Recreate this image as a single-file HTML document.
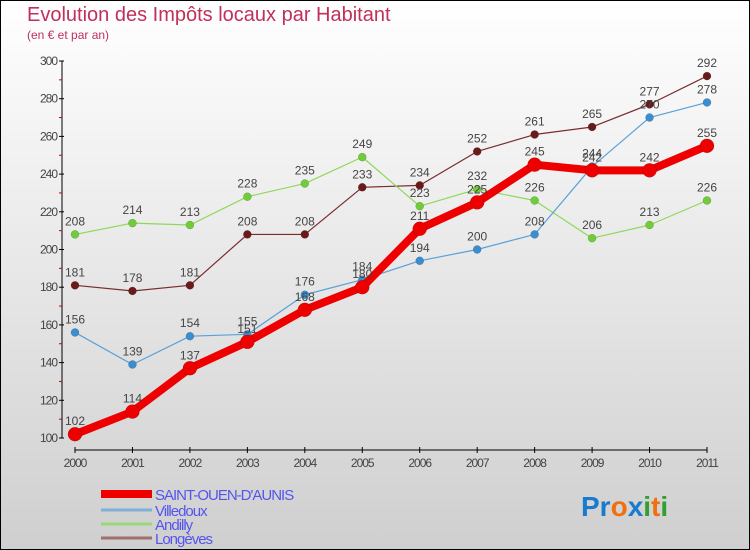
<!DOCTYPE html>
<html><head><meta charset="utf-8"><style>
body{margin:0;}
#wrap{position:relative;width:748px;height:548px;border:1px solid #000;background:linear-gradient(#fff,#cfcfcf);font-family:"Liberation Sans",sans-serif;overflow:hidden}
.t{position:absolute;color:#c0305a}
</style></head><body>
<div id="wrap">
<div class="t" style="left:26px;top:3px;font-size:20px;font-weight:300">Evolution des Impôts locaux par Habitant</div>
<div class="t" style="left:26px;top:27px;font-size:12px">(en € et par an)</div>
<svg id="chart" width="748" height="548" style="position:absolute;left:0;top:0"></svg>
</div>
<script>
const years=["2000","2001","2002","2003","2004","2005","2006","2007","2008","2009","2010","2011"];
const yTicks=[100,120,140,160,180,200,220,240,260,280,300];
const saintOuen=[102,114,137,151,168,180,211,225,245,242,242,255];
const villedoux=[156,139,154,155,176,184,194,200,208,244,270,278];
const andilly=[208,214,213,228,235,249,223,232,226,206,213,226];
const longeves=[181,178,181,208,208,233,234,252,261,265,277,292];
const seriesNames=["SAINT-OUEN-D'AUNIS","Villedoux","Andilly","Longèves"];

const ns="http://www.w3.org/2000/svg";
const svg=document.getElementById('chart');
const x=i=>74+i*(632/11);
const y=v=>437-(v-100)*(377/200);
function el(t,a,p){const e=document.createElementNS(ns,t);for(const k in a)e.setAttribute(k,a[k]);(p||svg).appendChild(e);return e;}

// y axis
let ax=el('line',{x1:61,y1:y(300),x2:61,y2:y(100),stroke:'#000','stroke-width':1});


for(let v=110;v<300;v+=20){el('line',{x1:58,y1:y(v),x2:61,y2:y(v),stroke:'#c00'});}
yTicks.forEach(v=>{
 el('line',{x1:58,y1:y(v),x2:63,y2:y(v),stroke:'#000'});
 const t=el('text',{x:56,y:y(v)+4,'text-anchor':'end','font-size':12,fill:'#444','letter-spacing':'-1'});
 t.textContent=v;
 
 
});
// x axis
let xa=el('line',{x1:x(0),y1:449,x2:x(11),y2:449,stroke:'#000'});


years.forEach((yr,i)=>{
 el('line',{x1:x(i),y1:446,x2:x(i),y2:452,stroke:'#000'});
 const t=el('text',{x:x(i),y:466,'text-anchor':'middle','font-size':12,fill:'#444','letter-spacing':'-1'});
 t.textContent=yr;
 
 
});
function series(data,color,dot,w,r,name){
 const g=el('g',{});
 
 
 el('polyline',{points:data.map((v,i)=>x(i)+','+y(v)).join(' '),fill:'none',stroke:color,'stroke-width':w,'stroke-linejoin':'round'},g);
 data.forEach((v,i)=>{
  const c=el('circle',{cx:x(i),cy:y(v),r:r,fill:dot,stroke:'rgba(0,0,0,0.25)','stroke-width':0.5},g);
  
  
  const t=el('text',{x:x(i),y:y(v)-9,'text-anchor':'middle','font-size':12,fill:'#444'},g);
  t.textContent=v;
  
  
 });
}
series(longeves,'#7a2c2c','#6b1a1a',1.2,4,'longeves-series');
series(andilly,'#8ed85a','#70cc3a',1.2,4,'andilly-series');
series(villedoux,'#5aa0d8','#3a8ed0',1.2,4,'villedoux-series');
series(saintOuen,'#ee0000','#ee0000',8,7,'saint-ouen-series');

// legend
const lc=['#ee0000','#80b0d8','#98d878','#a07070'],lw=[8,3,3,3],ly=[493,509,523,537];
seriesNames.forEach((n,i)=>{
 const g=el('g',{});
 
 
 el('line',{x1:100,y1:ly[i],x2:151,y2:ly[i],stroke:lc[i],'stroke-width':lw[i]},g);
 const t=el('text',{x:154,y:ly[i]+6,'font-size':15,fill:'#5555ee','letter-spacing':'-1'},g);
 t.textContent=n;
});
// logo
const logo=el('text',{x:580,y:515,'font-size':28,'font-weight':'bold','font-family':'Liberation Sans, sans-serif'});


[['Pr','#1a7acc'],['o','#f07010'],['x','#1a7acc'],['i','#30a030'],['t','#f07010'],['i','#30a030']].forEach(([s,c])=>{const ts=el('tspan',{fill:c},logo);ts.textContent=s;});
</script>
</body></html>
